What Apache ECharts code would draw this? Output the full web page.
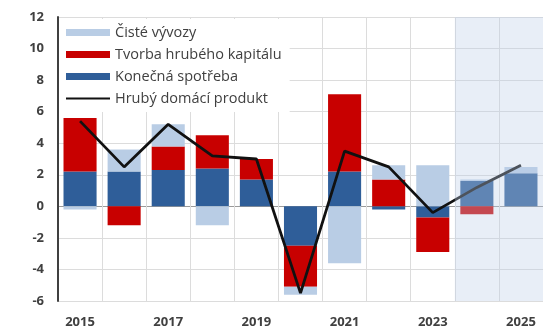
<!DOCTYPE html>
<html>
<head>
<meta charset="utf-8">
<script src="https://cdn.jsdelivr.net/npm/echarts@6/dist/echarts.min.js"></script>
<style>
  html, body { margin: 0; padding: 0; background: #fff; }
  #chart { width: 543px; height: 329px; }
</style>
</head>
<body>
<div id="chart"></div>
<script>
// Příspěvky k růstu HDP (p.b.), 2024–2025 prognóza
const years = ['2015', '2016', '2017', '2018', '2019', '2020', '2021', '2022', '2023', '2024', '2025'];
const konecnaSpotreba = [2.2, 2.2, 2.3, 2.4, 1.7, -2.5, 2.2, -0.2, -0.7, 1.6, 2.1];
const tvorbaKapitalu = [3.4, -1.2, 1.5, 2.1, 1.3, -2.6, 4.9, 1.7, -2.2, -0.5, 0];
const cisteVyvozy = [-0.2, 1.4, 1.4, -1.2, 0, -0.5, -3.6, 0.9, 2.6, 0.1, 0.4];
const hdp = [5.4, 2.5, 5.2, 3.2, 3.0, -5.5, 3.5, 2.5, -0.4, 1.2, 2.6];
const forecastYears = ['2024', '2025'];
const yTicks = [-6, -4, -2, 0, 2, 4, 6, 8, 10, 12];

const FONT = '"Open Sans", "Liberation Sans", sans-serif';
const C_LIGHT = '#b9cde5';
const C_RED = '#c80000';
const C_BLUE = '#2f5e99';

const chart = echarts.init(document.getElementById('chart'), null, { renderer: 'canvas' });

// darker split line at zero
const splitColors = yTicks.map(v => (v === 0 ? '#9a9a9a' : '#dcdcdc'));
// full-height band for each forecast year (on a hidden 0..1 axis)
const forecastBand = years.map(y => (forecastYears.includes(y) ? 1 : null));

// thin line icon inside the same 44x7 legend box as the bars
const LINE_ICON = 'path://M0,0L0,0M0,2.5L44,2.5L44,4.5L0,4.5ZM44,7L44,7';

chart.setOption({
  animation: false,
  textStyle: { fontFamily: FONT },
  grid: { left: 58, right: -2, top: 17, bottom: 28 },
  legend: {
    orient: 'vertical',
    left: 59,
    top: 19,
    padding: [6, 8, 6, 7],
    backgroundColor: '#ffffff',
    itemWidth: 44,
    itemHeight: 7,
    itemGap: 7,
    textStyle: { fontFamily: FONT, fontSize: 14.5, color: '#404040', lineHeight: 15 },
    data: [
      { name: 'Čisté vývozy', icon: 'rect' },
      { name: 'Tvorba hrubého kapitálu', icon: 'rect' },
      { name: 'Konečná spotřeba', icon: 'rect' },
      { name: 'Hrubý domácí produkt', icon: LINE_ICON }
    ]
  },
  xAxis: [
    {
      type: 'category',
      data: years,
      axisLine: { show: false },
      axisTick: { show: false },
      axisLabel: {
        interval: 1,
        margin: 15,
        fontFamily: FONT,
        fontSize: 13,
        fontWeight: 'bold',
        color: '#404040'
      },
      splitLine: { show: true, interval: 0, lineStyle: { color: '#dcdcdc', width: 1 } }
    },
    {
      type: 'category',
      data: years,
      show: false
    }
  ],
  yAxis: [
    {
      type: 'value',
      min: -6,
      max: 12,
      interval: 2,
      axisLine: { show: true, lineStyle: { color: '#404040', width: 2 } },
      axisTick: { show: false },
      axisLabel: {
        margin: 14,
        fontFamily: FONT,
        fontSize: 13,
        fontWeight: 'bold',
        color: '#404040'
      },
      splitLine: { show: true, lineStyle: { color: splitColors, width: 1 } }
    },
    {
      type: 'value',
      min: 0,
      max: 1,
      show: false
    }
  ],
  series: [
    {
      name: 'Konečná spotřeba',
      type: 'bar',
      stack: 'contrib',
      data: konecnaSpotreba,
      barWidth: '75%',
      itemStyle: { color: C_BLUE }
    },
    {
      name: 'Tvorba hrubého kapitálu',
      type: 'bar',
      stack: 'contrib',
      data: tvorbaKapitalu,
      itemStyle: { color: C_RED }
    },
    {
      name: 'Čisté vývozy',
      type: 'bar',
      stack: 'contrib',
      data: cisteVyvozy,
      itemStyle: { color: C_LIGHT }
    },
    {
      name: 'Hrubý domácí produkt',
      type: 'line',
      data: hdp,
      symbol: 'none',
      z: 5,
      lineStyle: { color: '#111111', width: 2.8 },
      itemStyle: { color: '#111111' }
    },
    {
      // forecast shading drawn over the marks
      name: 'prognoza',
      type: 'bar',
      xAxisIndex: 1,
      yAxisIndex: 1,
      data: forecastBand,
      barWidth: '100%',
      silent: true,
      z: 10,
      itemStyle: { color: 'rgba(190, 206, 232, 0.35)' }
    }
  ]
});
</script>
</body>
</html>
